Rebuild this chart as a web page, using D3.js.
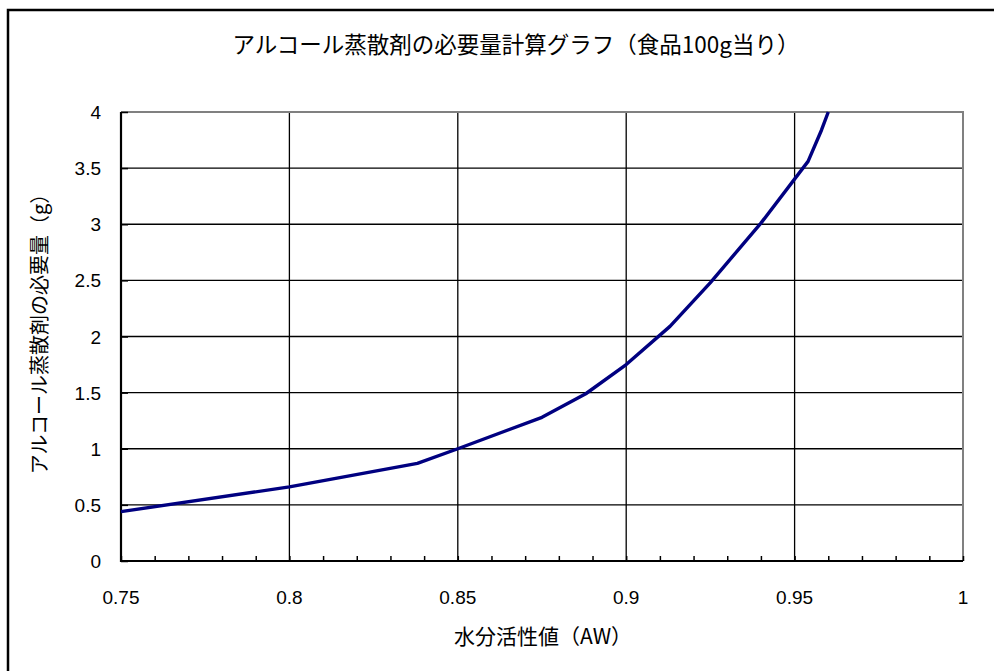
<!DOCTYPE html>
<html>
<head>
<meta charset="utf-8">
<script src="https://cdn.jsdelivr.net/npm/d3@7"></script>
<style>
  body { margin: 0; background: #fff; overflow: hidden; }
  svg { display: block; }
  .tick-label { font-family: "Liberation Sans", Arial, sans-serif; font-size: 19px; fill: #000; }
  .jp { font-family: "Noto Sans CJK JP", sans-serif; fill: #000; }
</style>
</head>
<body>
<svg id="chart"></svg>
<script>
// data
var awValues = [0.75, 0.80, 0.838, 0.85, 0.875, 0.888, 0.90, 0.913, 0.925, 0.94, 0.954, 0.958, 0.96]
var amountValues = [0.44, 0.66, 0.87, 1.00, 1.28, 1.49, 1.75, 2.09, 2.48, 3.01, 3.56, 3.84, 4.0]
var xTicks = [0.75, 0.8, 0.85, 0.9, 0.95, 1]
var yTicks = [0, 0.5, 1, 1.5, 2, 2.5, 3, 3.5, 4]

var TITLE = 'アルコール蒸散剤の必要量計算グラフ（食品100g当り）'
var X_TITLE = '水分活性値（AW）'
var Y_TITLE = 'アルコール蒸散剤の必要量（g）'

var WIDTH = 994
var HEIGHT = 671
var LINE_COLOR = '#000080'

var plot = { left: 121, top: 112, right: 963, bottom: 561 }

var svg = d3.select('#chart')
  .attr('width', WIDTH)
  .attr('height', HEIGHT)

// outer chart frame (runs off the right and bottom edges)
svg.append('rect')
  .attr('x', 8).attr('y', 10)
  .attr('width', 1000).attr('height', 700)
  .attr('fill', 'none')
  .attr('stroke', '#000')
  .attr('stroke-width', 2.5)

var x = d3.scaleLinear().domain([0.75, 1]).range([plot.left, plot.right])
var y = d3.scaleLinear().domain([0, 4]).range([plot.bottom, plot.top])

// gridlines
svg.append('g')
  .selectAll('line')
  .data(yTicks.slice(1, -1))
  .enter().append('line')
  .attr('x1', plot.left).attr('x2', plot.right)
  .attr('y1', function (d) { return y(d) }).attr('y2', function (d) { return y(d) })
  .attr('stroke', '#000').attr('stroke-width', 1.3)

svg.append('g')
  .selectAll('line')
  .data(xTicks.slice(1, -1))
  .enter().append('line')
  .attr('y1', plot.top).attr('y2', plot.bottom)
  .attr('x1', function (d) { return x(d) }).attr('x2', function (d) { return x(d) })
  .attr('stroke', '#000').attr('stroke-width', 1.3)

// plot frame: top and right in grey
svg.append('path')
  .attr('d', 'M' + plot.left + ',' + plot.top + 'H' + plot.right + 'V' + plot.bottom)
  .attr('fill', 'none')
  .attr('stroke', '#808080')
  .attr('stroke-width', 2)

// minor ticks on the x axis, pointing inward
var minorTicks = x.ticks(25)
svg.append('g')
  .call(d3.axisBottom(x).tickValues(minorTicks).tickSize(-5).tickFormat(''))
  .attr('transform', 'translate(0,' + plot.bottom + ')')
  .call(function (g) {
    g.select('.domain').remove()
    g.selectAll('line').attr('stroke', '#000').attr('stroke-width', 1.5)
  })

// y ticks inward
svg.append('g')
  .attr('transform', 'translate(' + plot.left + ',0)')
  .call(d3.axisLeft(y).tickValues(yTicks).tickSize(-7).tickFormat(''))
  .call(function (g) {
    g.select('.domain').remove()
    g.selectAll('line').attr('stroke', '#000').attr('stroke-width', 1.5)
  })

// axis lines
svg.append('path')
  .attr('d', 'M' + plot.left + ',' + plot.top + 'V' + plot.bottom + 'H' + plot.right)
  .attr('fill', 'none')
  .attr('stroke', '#000')
  .attr('stroke-width', 2.2)

// tick labels
svg.append('g')
  .selectAll('text')
  .data(yTicks)
  .enter().append('text')
  .classed('tick-label', true)
  .attr('x', 101)
  .attr('y', function (d) { return y(d) + 7 })
  .attr('text-anchor', 'end')
  .text(function (d) { return d })

svg.append('g')
  .selectAll('text')
  .data(xTicks)
  .enter().append('text')
  .classed('tick-label', true)
  .attr('x', function (d) { return x(d) })
  .attr('y', 604)
  .attr('text-anchor', 'middle')
  .text(function (d) { return d })

// the curve
var line = d3.line()
  .x(function (d, i) { return x(awValues[i]) })
  .y(function (d) { return y(d) })

svg.append('path')
  .datum(amountValues)
  .attr('d', line)
  .attr('fill', 'none')
  .attr('stroke', LINE_COLOR)
  .attr('stroke-width', 3.4)
  .attr('stroke-linejoin', 'round')

// titles
svg.append('text')
  .classed('jp', true)
  .attr('x', 516).attr('y', 53)
  .attr('text-anchor', 'middle')
  .attr('font-size', 22.5)
  .text(TITLE)

svg.append('text')
  .classed('jp', true)
  .attr('x', 543).attr('y', 644)
  .attr('text-anchor', 'middle')
  .attr('font-size', 21)
  .text(X_TITLE)

svg.append('text')
  .classed('jp', true)
  .attr('transform', 'translate(47,329) rotate(-90)')
  .attr('text-anchor', 'middle')
  .attr('font-size', 20)
  .text(Y_TITLE)
</script>
</body>
</html>
